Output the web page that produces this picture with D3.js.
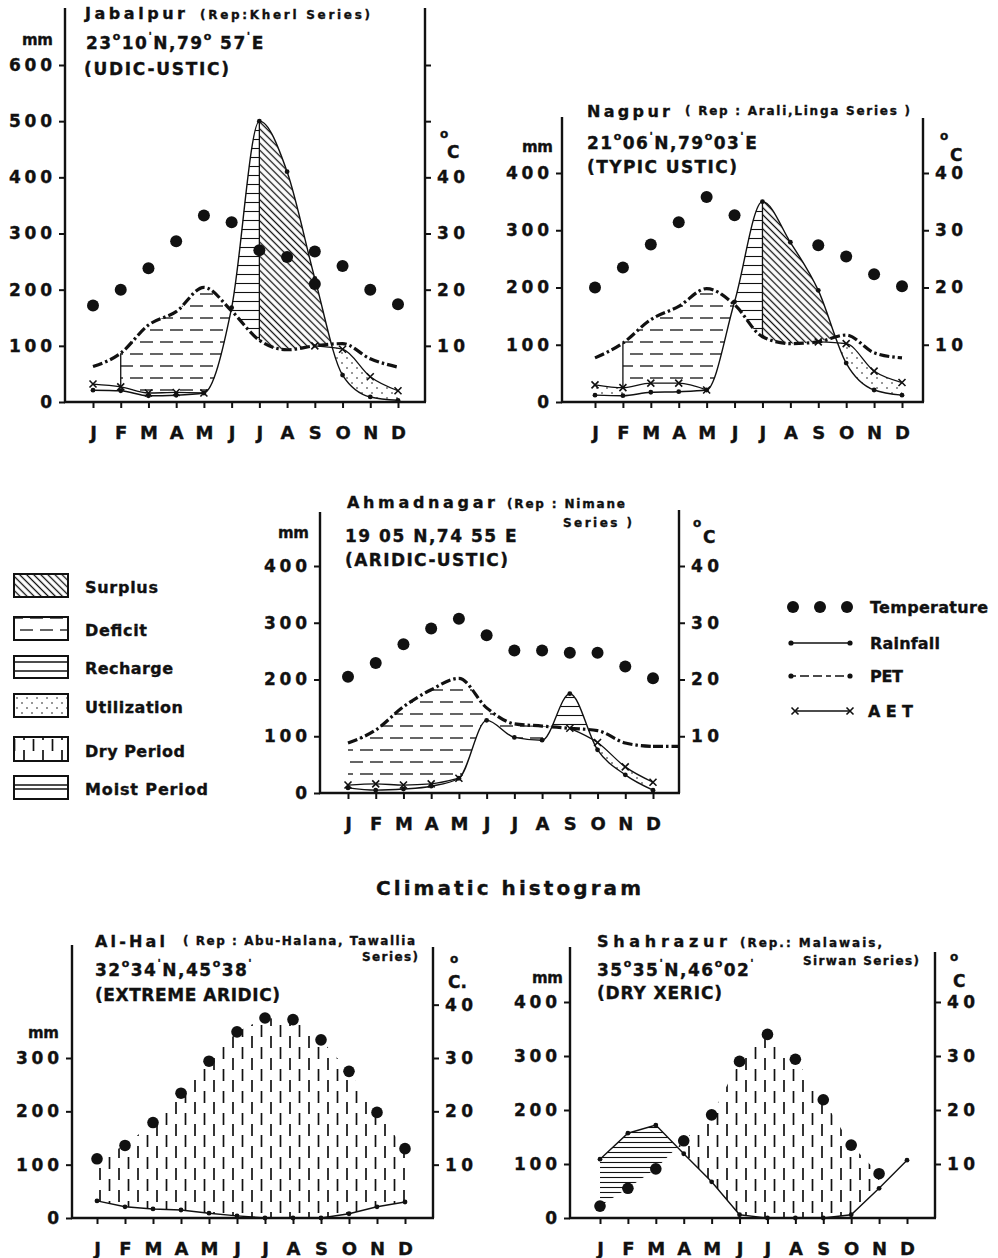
<!DOCTYPE html>
<meta charset="utf-8">
<title>Climatic histogram</title>
<style>
body { margin: 0; background: #fff; }
svg { font-family: "DejaVu Sans", sans-serif; font-weight: bold; }
text { fill: #111; stroke: #111; stroke-width: 0.35px; }
</style>
<body>
<svg width="998" height="1258"></svg>
<script src="https://d3js.org/d3.v7.min.js"></script>
<script>
var months = ["J","F","M","A","M","J","J","A","S","O","N","D"];

// Jabalpur (mm, temperature in deg C)
var jabTemp = [17.2, 20.0, 23.8, 28.6, 33.2, 32.0, 27.0, 25.8, 26.8, 24.2, 20.0, 17.4];
var jabTempExtra = [[8, 21.0]];
var jabRain = [21, 20, 11, 12, 16, 168, 500, 410, 220, 48, 9, 3];
var jabPet  = [63, 87, 137, 161, 204, 162, 110, 93, 100, 104, 77, 62];
var jabAet  = [32, 27, 16, 17, 16, null, null, null, 100, 94, 45, 20];

// Nagpur
var nagTemp = [20.0, 23.5, 27.5, 31.4, 35.8, 32.6, null, null, 27.4, 25.4, 22.3, 20.2];
var nagRain = [12, 11, 17, 18, 21, 175, 350, 279, 195, 68, 21, 12];
var nagPet  = [77, 103, 144, 167, 198, 170, 114, 102, 105, 117, 86, 77];
var nagAet  = [30, 25, 33, 33, 21, null, null, null, 105, 102, 54, 34];

// Ahmadnagar
var ahmTemp = [20.5, 22.9, 26.2, 29.0, 30.7, 27.8, 25.1, 25.1, 24.7, 24.7, 22.3, 20.2];
var ahmRain = [9, 5, 7, 12, 26, 128, 98, 93, 175, 76, 32, 5];
var ahmPet  = [88, 111, 152, 182, 202, 150, 122, 118, 114, 110, 88, 82];
var ahmAet  = [14, 16, 14, 16, 26, null, null, null, 114, 89, 46, 19];

// Al-Hal
var alhTemp = [11.1, 13.6, 17.9, 23.4, 29.4, 34.9, 37.5, 37.2, 33.4, 27.5, 19.8, 13.0];
var alhRain = [32, 21, 17, 15, 9, 4, 0, 0, 0, 8, 21, 30];

// Shahrazur
var shaTemp = [2.2, 5.5, 9.1, 14.3, 19.1, 29.0, 34.0, 29.4, 21.9, 13.5, 8.2, null];
var shaRain = [109, 157, 172, 119, 67, 6, 0, 0, 0, 6, 55, 107];

var ticks600 = [0, 100, 200, 300, 400, 500, 600];
var ticks400 = [0, 100, 200, 300, 400];
var ticks300 = [0, 100, 200, 300];
var degTicks60 = [10, 20, 30, 40, 50, 60];
var degTicks40 = [10, 20, 30, 40];

var svg = d3.select("svg");
var defs = svg.append("defs");
var ink = "#111";

// ---- fill patterns ----
function pattern(id, w, h, tf) {
  var p = defs.append("pattern").attr("id", id)
      .attr("patternUnits", "userSpaceOnUse").attr("width", w).attr("height", h);
  if (tf) p.attr("patternTransform", tf);
  return p;
}
function seg(p, x1, y1, x2, y2, sw) {
  p.append("line").attr("x1", x1).attr("y1", y1).attr("x2", x2).attr("y2", y2)
    .attr("stroke", ink).attr("stroke-width", sw);
}
var pS = pattern("surplus", 5, 5, "rotate(-45)"); seg(pS, 2.5, 0, 2.5, 5, 1.3);
var pD = pattern("deficit", 20, 24);
seg(pD, 0, 6, 13, 6, 1.3); seg(pD, 10, 18, 20, 18, 1.3); seg(pD, 0, 18, 3, 18, 1.3);
var pR = pattern("recharge", 10, 9); seg(pR, 0, 4.5, 10, 4.5, 1.1);
var pU = pattern("util", 10, 10);
pU.append("circle").attr("cx", 2).attr("cy", 3).attr("r", 0.8).attr("fill", ink);
pU.append("circle").attr("cx", 7).attr("cy", 8).attr("r", 0.8).attr("fill", ink);
var pY = pattern("dry", 19, 22);
seg(pY, 5, 2, 5, 14, 1.7); seg(pY, 14.5, 13, 14.5, 22, 1.7); seg(pY, 14.5, 0, 14.5, 3, 1.7);
var pM = pattern("moist", 10, 5); seg(pM, 0, 2.5, 10, 2.5, 1.1);

var clipN = 0;
// area between lower and upper, only where upper is above lower, limited to months [from, to]
function region(g, x, y, lower, upper, from, to, fill, curve) {
  var id = "clip" + (clipN++);
  var idx = d3.range(12);
  defs.append("clipPath").attr("id", id + "x").append("rect")
    .attr("x", x(from)).attr("y", 0).attr("width", x(to) - x(from)).attr("height", 1258);
  defs.append("clipPath").attr("id", id + "u").append("path")
    .attr("d", d3.area().defined(function(i) { return upper[i] != null; })
      .x(x).y0(y(0)).y1(function(i) { return y(upper[i]); }).curve(curve)(idx));
  g.append("g").attr("clip-path", "url(#" + id + "x)")
    .append("path").attr("clip-path", "url(#" + id + "u)")
    .attr("d", d3.area().defined(function(i) { return lower[i] != null; })
      .x(x).y0(function(i) { return y(lower[i]); }).y1(0).curve(curve)(idx))
    .attr("fill", "url(#" + fill + ")");
}

function label(g, s, x, y, size, w) {
  var t = g.append("text").attr("x", x).attr("y", y).attr("font-size", size).text(s);
  if (w) t.attr("textLength", w).attr("lengthAdjust", "spacing");
  return t;
}
function coordLine(g, s, x, y) {
  var t = g.append("text").attr("x", x).attr("y", y).attr("font-size", 17)
    .attr("letter-spacing", 1.5);
  var up = false;
  s.split(/([°'])/).forEach(function(p) {
    if (!p) return;
    if (p === "°" || p === "'") {
      t.append("tspan").attr("font-size", 11).attr("dy", up ? 0 : -9).text(p === "°" ? "o" : "'");
      up = true;
    } else {
      t.append("tspan").attr("dy", up ? 9 : 0).text(p);
      up = false;
    }
  });
}

function panel(L, D) {
  var g = svg.append("g");
  var x = d3.scaleLinear().domain([0, 11]).range([L.x0, L.x1]);
  var y = d3.scaleLinear().domain([0, L.yMax]).range([L.base, L.yMaxPx]);
  var yT = d3.scaleLinear().domain([0, L.yMax / 10]).range([L.base, L.yMaxPx]);
  var idx = d3.range(12);
  var curve = D.smooth ? d3.curveMonotoneX : d3.curveLinear;

  (D.regions || []).forEach(function(r) {
    region(g, x, y, r.lower, r.upper, r.from, r.to, r.fill, curve);
  });

  if (D.pet) {
    g.append("path")
      .attr("d", d3.line().x(x).y(function(i) { return y(D.pet[i]); }).curve(curve)(idx))
      .attr("fill", "none").attr("stroke", ink).attr("stroke-width", 3.2)
      .attr("stroke-dasharray", "10,3,2.5,3");
    if (L.petTail) {
      g.append("line").attr("x1", x(11)).attr("x2", L.right)
        .attr("y1", y(D.pet[11])).attr("y2", y(D.pet[11]))
        .attr("stroke", ink).attr("stroke-width", 3.2).attr("stroke-dasharray", "10,3,2.5,3");
    }
  }
  if (D.aet) {
    var def = function(i) { return D.aet[i] != null; };
    g.append("path")
      .attr("d", d3.line().defined(def).x(x).y(function(i) { return y(D.aet[i]); }).curve(curve)(idx))
      .attr("fill", "none").attr("stroke", ink).attr("stroke-width", 1.3);
    g.selectAll(null).data(idx.filter(def)).enter().append("path")
      .attr("transform", function(i) { return "translate(" + x(i) + "," + y(D.aet[i]) + ")"; })
      .attr("d", "M-3.5,-3.5L3.5,3.5M-3.5,3.5L3.5,-3.5")
      .attr("stroke", ink).attr("stroke-width", 1.6);
  }
  g.append("path")
    .attr("d", d3.line().x(x).y(function(i) { return y(D.rain[i]); }).curve(curve)(idx))
    .attr("fill", "none").attr("stroke", ink).attr("stroke-width", 1.4);
  g.selectAll(null).data(idx).enter().append("circle")
    .attr("cx", x).attr("cy", function(i) { return y(D.rain[i]); })
    .attr("r", 2.4).attr("fill", ink);

  (D.bounds || []).forEach(function(m) {
    var other = D.rain[m] > D.pet[m] ? D.rain[m] : D.aet[m];
    g.append("line").attr("x1", x(m)).attr("x2", x(m))
      .attr("y1", y(D.pet[m])).attr("y2", y(other))
      .attr("stroke", ink).attr("stroke-width", 1.3);
  });

  var temps = idx.filter(function(i) { return D.temp[i] != null; })
    .map(function(i) { return [i, D.temp[i]]; }).concat(D.tempExtra || []);
  g.selectAll(null).data(temps).enter().append("circle")
    .attr("cx", function(d) { return x(d[0]); })
    .attr("cy", function(d) { return yT(d[1]); })
    .attr("r", L.dotR).attr("fill", ink);

  // axes
  g.append("line").attr("x1", L.left).attr("x2", L.left).attr("y1", L.base).attr("y2", L.topL)
    .attr("stroke", ink).attr("stroke-width", 2.4);
  g.append("line").attr("x1", L.right).attr("x2", L.right).attr("y1", L.base).attr("y2", L.topR)
    .attr("stroke", ink).attr("stroke-width", 2.4);
  g.append("line").attr("x1", L.left - 1).attr("x2", L.right + 1).attr("y1", L.base).attr("y2", L.base)
    .attr("stroke", ink).attr("stroke-width", 2.6);

  var style = function(ax, size, stretch) {
    ax.attr("font-family", null).attr("font-size", size);
    ax.select(".domain").remove();
    ax.selectAll(".tick line").attr("stroke", ink).attr("stroke-width", 2);
    ax.selectAll(".tick text").attr("fill", ink);
    if (stretch) {
      ax.selectAll(".tick text").each(function() {
        var n = this.textContent.length;
        if (n > 1) d3.select(this).attr("textLength", 15 * n - 2).attr("lengthAdjust", "spacing");
      });
    }
  };
  var axL = g.append("g").attr("transform", "translate(" + L.left + ",0)")
    .call(d3.axisLeft(y).tickValues(D.leftTicks).tickSize(6).tickPadding(7).tickFormat(d3.format("d")));
  style(axL, 17, true);
  var axR = g.append("g").attr("transform", "translate(" + L.right + ",0)")
    .call(d3.axisRight(yT).tickValues(D.rightTicks).tickSize(6).tickPadding(6)
      .tickFormat(function(d) { return d <= 40 ? d : ""; }));
  style(axR, 17, true);
  var axB = g.append("g").attr("transform", "translate(0," + L.base + ")")
    .call(d3.axisBottom(x).tickValues(idx).tickSize(6).tickPadding(18)
      .tickFormat(function(i) { return months[i]; }));
  style(axB, 18, false);

  // texts
  label(g, "mm", L.mm[0], L.mm[1], 15, 31);
  label(g, "o", L.degO[0], L.degO[1], 12);
  label(g, L.degC, L.degCpos[0], L.degCpos[1], 17);
  D.titles.forEach(function(t, k) {
    var p = L.titles[k];
    label(g, t, p[0], p[1], p[2], p[3]);
  });
  coordLine(g, D.coord, L.coord[0], L.coord[1]);
  label(g, D.soil, L.soil[0], L.soil[1], 17, L.soil[2]);
}

function lowerOf(rain, aet) {
  return rain.map(function(r, i) { return aet[i] != null ? Math.max(aet[i], r) : r; });
}
function toMm(t) { return t.map(function(v) { return v == null ? null : v * 10; }); }

panel({ left: 65, right: 425, topL: 8, topR: 8, base: 402, yMax: 600, yMaxPx: 65, x0: 93, x1: 398, dotR: 6,
        mm: [22, 45], degO: [440, 138], degC: "C", degCpos: [447, 158],
        titles: [[85, 19, 16, 100], [200, 19, 12, 170]], coord: [86, 49], soil: [84, 75, 145] },
  { smooth: true, temp: jabTemp, tempExtra: jabTempExtra, rain: jabRain, pet: jabPet, aet: jabAet,
    bounds: [1, 6], leftTicks: ticks600, rightTicks: degTicks60,
    titles: ["Jabalpur", "(Rep:Kherl Series)"], coord: "23°10'N,79° 57'E", soil: "(UDIC-USTIC)",
    regions: [
      { lower: lowerOf(jabRain, jabAet), upper: jabPet, from: 1, to: 6, fill: "deficit" },
      { lower: jabPet, upper: jabRain, from: 0, to: 6, fill: "recharge" },
      { lower: jabPet, upper: jabRain, from: 6, to: 11, fill: "surplus" },
      { lower: jabRain, upper: jabAet, from: 7, to: 11, fill: "util" }
    ] });

panel({ left: 562, right: 923, topL: 117, topR: 118, base: 402, yMax: 400, yMaxPx: 173, x0: 595, x1: 902, dotR: 6,
        mm: [522, 152], degO: [940, 140], degC: "C", degCpos: [950, 161],
        titles: [[587, 117, 16, 83], [685, 115, 12, 225]], coord: [587, 149], soil: [587, 173, 150] },
  { smooth: true, temp: nagTemp, rain: nagRain, pet: nagPet, aet: nagAet,
    bounds: [1, 6], leftTicks: ticks400, rightTicks: degTicks40,
    titles: ["Nagpur", "( Rep : Arali,Linga Series )"], coord: "21°06'N,79°03'E", soil: "(TYPIC USTIC)",
    regions: [
      { lower: lowerOf(nagRain, nagAet), upper: nagPet, from: 1, to: 6, fill: "deficit" },
      { lower: nagPet, upper: nagRain, from: 0, to: 6, fill: "recharge" },
      { lower: nagPet, upper: nagRain, from: 6, to: 11, fill: "surplus" },
      { lower: nagRain, upper: nagAet, from: 0, to: 1, fill: "util" },
      { lower: nagRain, upper: nagAet, from: 7, to: 11, fill: "util" }
    ] });

panel({ left: 320, right: 679, topL: 512, topR: 510, base: 793, yMax: 400, yMaxPx: 566, x0: 348, x1: 653, dotR: 6,
        mm: [278, 538], degO: [693, 527], degC: "C", degCpos: [703, 543], petTail: true,
        titles: [[347, 508, 16, 148], [507, 508, 12, 118], [563, 527, 12, 69]], coord: [345, 542], soil: [345, 566, 163] },
  { smooth: true, temp: ahmTemp, rain: ahmRain, pet: ahmPet, aet: ahmAet,
    bounds: [], leftTicks: ticks400, rightTicks: degTicks40,
    titles: ["Ahmadnagar", "(Rep : Nimane", "Series )"], coord: "19 05 N,74 55 E", soil: "(ARIDIC-USTIC)",
    regions: [
      { lower: lowerOf(ahmRain, ahmAet), upper: ahmPet, from: 0, to: 8, fill: "deficit" },
      { lower: ahmPet, upper: ahmRain, from: 7, to: 10, fill: "recharge" },
      { lower: ahmRain, upper: ahmAet, from: 8, to: 11, fill: "util" }
    ] });

panel({ left: 72, right: 433, topL: 945, topR: 947, base: 1218, yMax: 300, yMaxPx: 1058, x0: 97, x1: 405, dotR: 5.8,
        mm: [28, 1038], degO: [450, 963], degC: "C.", degCpos: [448, 988],
        titles: [[95, 947, 16, 70], [183, 945, 12, 232], [362, 961, 12, 56]], coord: [95, 976], soil: [95, 1001, 185] },
  { smooth: false, temp: alhTemp, rain: alhRain, leftTicks: ticks300, rightTicks: degTicks40,
    titles: ["Al-Hal", "( Rep : Abu-Halana, Tawallia", "Series)"], coord: "32°34'N,45°38'", soil: "(EXTREME ARIDIC)",
    regions: [
      { lower: alhRain, upper: toMm(alhTemp), from: 0, to: 11, fill: "dry" }
    ] });

panel({ left: 570, right: 935, topL: 947, topR: 952, base: 1218, yMax: 400, yMaxPx: 1002, x0: 600, x1: 907, dotR: 5.8,
        mm: [532, 983], degO: [950, 961], degC: "C", degCpos: [953, 987],
        titles: [[597, 947, 16, 130], [740, 947, 12, 142], [803, 965, 12, 116]], coord: [597, 976], soil: [597, 999, 125] },
  { smooth: false, temp: shaTemp, rain: shaRain, leftTicks: ticks400, rightTicks: degTicks40,
    titles: ["Shahrazur", "(Rep.: Malawais,", "Sirwan Series)"], coord: "35°35'N,46°02'", soil: "(DRY XERIC)",
    regions: [
      { lower: shaRain, upper: toMm(shaTemp), from: 0, to: 11, fill: "dry" },
      { lower: toMm(shaTemp), upper: shaRain, from: 0, to: 11, fill: "moist" }
    ] });

// ---- left legend ----
var legendItems = ["Surplus", "Deficit", "Recharge", "Utilization", "Dry Period", "Moist Period"];
var legendFills = ["surplus", "deficit", "none", "util", "dry", "none"];
var legendBox = [[574, 23], [617, 23], [656, 22], [694, 23], [737, 24], [776, 23]];
var legendW = [73, 62, 88, 98, 100, 123];
var lg = svg.append("g");
legendItems.forEach(function(name, k) {
  var by = legendBox[k][0], bh = legendBox[k][1];
  lg.append("rect").attr("x", 14).attr("y", by).attr("width", 54).attr("height", bh)
    .attr("fill", legendFills[k] === "none" ? "#fff" : "url(#" + legendFills[k] + ")")
    .attr("stroke", ink).attr("stroke-width", 2);
  if (name === "Recharge") {
    seg(lg, 14, by + 6, 68, by + 6, 1.3); seg(lg, 14, by + 15, 68, by + 15, 1.3);
  }
  if (name === "Moist Period") {
    seg(lg, 14, by + 9, 68, by + 9, 1.3); seg(lg, 14, by + 13, 68, by + 13, 1.3);
  }
  label(lg, name, 85, by + bh - 4, 16, legendW[k]);
});

// ---- right legend ----
var rg = svg.append("g");
[793, 820, 847].forEach(function(cx) {
  rg.append("circle").attr("cx", cx).attr("cy", 607).attr("r", 6).attr("fill", ink);
});
label(rg, "Temperature", 870, 613, 16, 118);
seg(rg, 791, 643, 850, 643, 1.4);
rg.append("circle").attr("cx", 791).attr("cy", 643).attr("r", 2.6).attr("fill", ink);
rg.append("circle").attr("cx", 850).attr("cy", 643).attr("r", 2.6).attr("fill", ink);
label(rg, "Rainfall", 870, 649, 16, 70);
rg.append("line").attr("x1", 791).attr("x2", 850).attr("y1", 676).attr("y2", 676)
  .attr("stroke", ink).attr("stroke-width", 1.6).attr("stroke-dasharray", "5,4,9,4,9,4");
rg.append("circle").attr("cx", 791).attr("cy", 676).attr("r", 2.6).attr("fill", ink);
rg.append("circle").attr("cx", 850).attr("cy", 676).attr("r", 2.6).attr("fill", ink);
label(rg, "PET", 870, 682, 16, 33);
seg(rg, 795, 711, 850, 711, 1.4);
[795, 850].forEach(function(cx) {
  rg.append("path").attr("transform", "translate(" + cx + ",711)")
    .attr("d", "M-3.5,-3.5L3.5,3.5M-3.5,3.5L3.5,-3.5").attr("stroke", ink).attr("stroke-width", 1.6);
});
label(rg, "AET", 868, 717, 16, 45);

label(svg, "Climatic histogram", 376, 895, 20, 265);
</script>
</body>
